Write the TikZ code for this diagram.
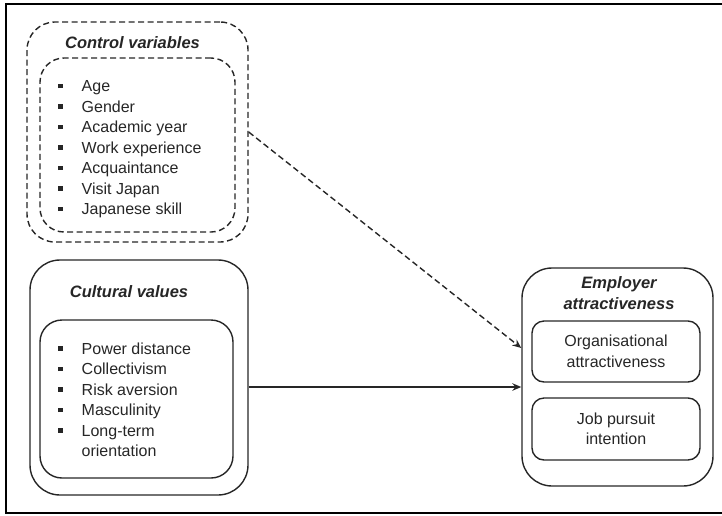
\documentclass[tikz,border=0pt]{standalone}
\usepackage{fontspec}
\setmainfont{Liberation Sans}
\usetikzlibrary{shapes, positioning, arrows.meta}

\newcommand{\sqbullet}{\raisebox{3.5pt}{\rule{4.5pt}{4.5pt}}}

\tikzset{
  box/.style={draw=black!85, line width=1.4pt, rounded corners=#1, inner sep=0pt},
  dashbox/.style={box=#1, dash pattern=on 6pt off 3.5pt},
  txt/.style={font=\fontsize{16pt}{20.5pt}\selectfont, inner sep=0pt, text=black!85},
  title/.style={txt, font=\fontsize{16.5pt}{20.5pt}\selectfont\bfseries\itshape, align=center},
  link/.style={draw=black!85, line width=1.4pt, -{Stealth[length=9pt,width=7.5pt,inset=3pt]}}
}

\begin{document}
\begin{tikzpicture}[x=1pt, y=-1pt]
      \useasboundingbox (0,0) rectangle (722,515);
      % frame
      \draw[line width=2pt] (722,4) -- (6,4) -- (6,513) -- (722,513);

      % control variables
      \node[dashbox=28pt, minimum width=221pt, minimum height=220pt] (ctrlOuter) at (137.5,132) {};
      \node[dashbox=24pt, minimum width=195pt, minimum height=174pt] (ctrlInner) at (137.5,145) {};
      \node[title] (ctrlTitle) at (132.5,43) {Control variables};
      \node[txt, anchor=north west, align=left] (ctrlList) at (58,77) {%
        \begin{tabular}{@{}l@{\hspace{19pt}}l@{}}
          \sqbullet & Age\\
          \sqbullet & Gender\\
          \sqbullet & Academic year\\
          \sqbullet & Work experience\\
          \sqbullet & Acquaintance\\
          \sqbullet & Visit Japan\\
          \sqbullet & Japanese skill
        \end{tabular}};

      % cultural values
      \node[box=30pt, minimum width=218pt, minimum height=235pt] (cultOuter) at (139,377.5) {};
      \node[box=22pt, minimum width=193pt, minimum height=158pt] (cultInner) at (136.5,399) {};
      \node[title] (cultTitle) at (129,292) {Cultural values};
      \node[txt, anchor=north west, align=left] (cultList) at (58,339.5) {%
        \begin{tabular}{@{}l@{\hspace{19pt}}l@{}}
          \sqbullet & Power distance\\
          \sqbullet & Collectivism\\
          \sqbullet & Risk aversion\\
          \sqbullet & Masculinity\\
          \sqbullet & Long-term\\
                    & orientation
        \end{tabular}};

      % employer attractiveness
      \node[box=30pt, minimum width=191pt, minimum height=218pt] (emp) at (617.5,377) {};
      \node[title] (empTitle) at (619,293) {Employer\\attractiveness};
      \node[box=12pt, txt, align=center, minimum width=168pt, minimum height=61pt] (orgBox) at (616,351.5) {Organisational\\attractiveness};
      \node[box=12pt, txt, align=center, minimum width=168pt, minimum height=62pt] (jobBox) at (616,429) {Job pursuit\\intention};

      % paths
      \draw[link, dash pattern=on 6pt off 3.5pt] (ctrlOuter.east) -- ([yshift=29pt]emp.west);
      \draw[link] ([yshift=-9.5pt]cultOuter.east) -- ([yshift=-9.5pt]cultOuter.east -| emp.west);
\end{tikzpicture}
\end{document}
